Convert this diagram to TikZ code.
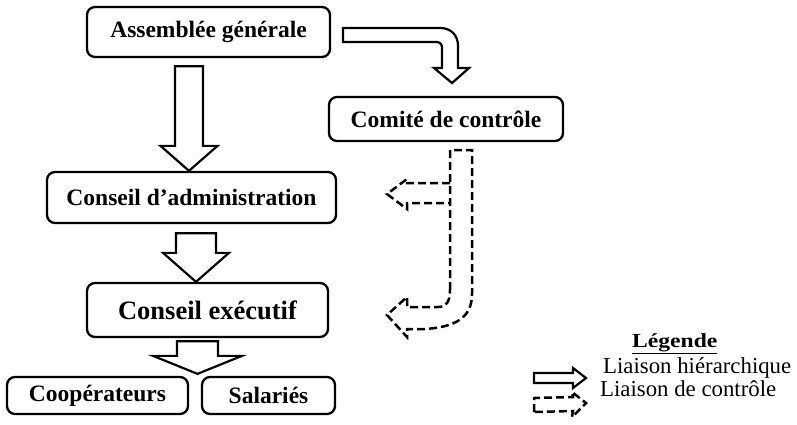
\documentclass[tikz,border=0pt]{standalone}
\usepackage{fontspec}
\usepackage{graphicx}
\setmainfont{Liberation Serif}
\usetikzlibrary{calc}

\tikzset{
  x=1pt, y=-1pt,
  box/.style={draw, line width=2.3pt, rounded corners=8pt, inner sep=0pt,
              font=\bfseries\fontsize{23.5}{26}\selectfont},
  hollow/.style={draw, line width=2.2pt, fill=white, line join=miter},
  dashedarrow/.style={draw, line width=2.5pt, dash pattern=on 8pt off 4pt, line join=miter},
  legendtext/.style={anchor=base west, inner sep=0pt, font=\fontsize{22.8}{25}\selectfont},
}

% widened legend title
\newcommand\widetext[1]{\scalebox{1.18}[1]{#1}}

% hollow block arrow pointing down:
% #1 x of axis, #2 half shaft width, #3 half head width, #4 head length,
% #5 top of shaft, #6 tip
\newcommand\blockdown[6]{%
  \draw[hollow] let \p1=(#5), \p2=(#6) in
    ({#1pt-#2pt},\y1) -- ({#1pt+#2pt},\y1) -- ({#1pt+#2pt},{\y2+#4pt})
    -- ({#1pt+#3pt},{\y2+#4pt}) -- (#1pt,\y2) -- ({#1pt-#3pt},{\y2+#4pt})
    -- ({#1pt-#2pt},{\y2+#4pt}) -- cycle;}

\begin{document}
\begin{tikzpicture}
\useasboundingbox (0,0) rectangle (797,424);
\fill[white] (0,0) rectangle (797,424);

% boxes
\node[box, minimum width=243, minimum height=50] (ag) at (208.5,32) {Assemblée générale};
\node[box, minimum width=234, minimum height=44] (cc) at (446,119) {Comité de contrôle};
\node[box, minimum width=289, minimum height=51] (ca) at (191.5,197.5) {Conseil d’administration};
\node[box, minimum width=241, minimum height=54, font=\bfseries\fontsize{26.5}{28}\selectfont] (ce) at (207.5,310) {Conseil exécutif};
\node[box, minimum width=181, minimum height=37] (coop) at (97.5,395.5) {Coopérateurs};
\node[box, minimum width=133, minimum height=37] (sal) at (268.5,395.5) {Salariés};

% hierarchical block arrows
\blockdown{189}{14}{28.5}{25}{$(ag.south)+(0,8)$}{189,0 |- ca.north}
\blockdown{196}{20}{33}{29}{$(ca.south)+(0,9)$}{196,0 |- ce.north}
\blockdown{197.5}{20.5}{44.5}{18}{$(ce.south)+(0,3)$}{$(197.5,0 |- coop.north)+(0,-2)$}

% bent hollow arrow towards the control committee
\draw[hollow] (343,28) -- (440,28) .. controls (451,28) and (458,35) .. (458,46)
  -- (458,68) -- (469,68) -- (452,83) -- (434,68) -- (442,68) -- (442,48)
  .. controls (442,44) and (440,42) .. (436,42) -- (343,42) -- cycle;

% dashed control arrow running down from the committee
\draw[dashedarrow] (450,290) -- (450,150) -- (472,150) -- (472,294)
  .. controls (472,318) and (455,327) .. (425,329) -- (407,329) -- (407,337)
  -- (387,315) -- (407,297) -- (407,307) -- (438,307)
  .. controls (446,307) and (450,302) .. (450,290);
\draw[dashedarrow] (450,183) -- (407,183) -- (407,179) -- (387,194)
  -- (407,209) -- (407,203) -- (450,203);

% legend
\node[legendtext, font=\bfseries\fontsize{20}{22}\selectfont] (leg) at (632,347) {\widetext{\underline{Légende}}};
\node[legendtext] (lh) at (603,373) {Liaison hiérarchique};
\node[legendtext] (lc) at (600,396) {Liaison de contrôle};
\draw[hollow] (534,373) -- (573,373) -- (573,368) -- (586,378) -- (573,388)
  -- (573,383) -- (534,383) -- cycle;
\draw[dashedarrow] (534,412) -- (534,398) -- (573,397) -- (572,392) -- (586,403)
  -- (572,417) -- (573,411) -- (534,412);
\end{tikzpicture}
\end{document}
